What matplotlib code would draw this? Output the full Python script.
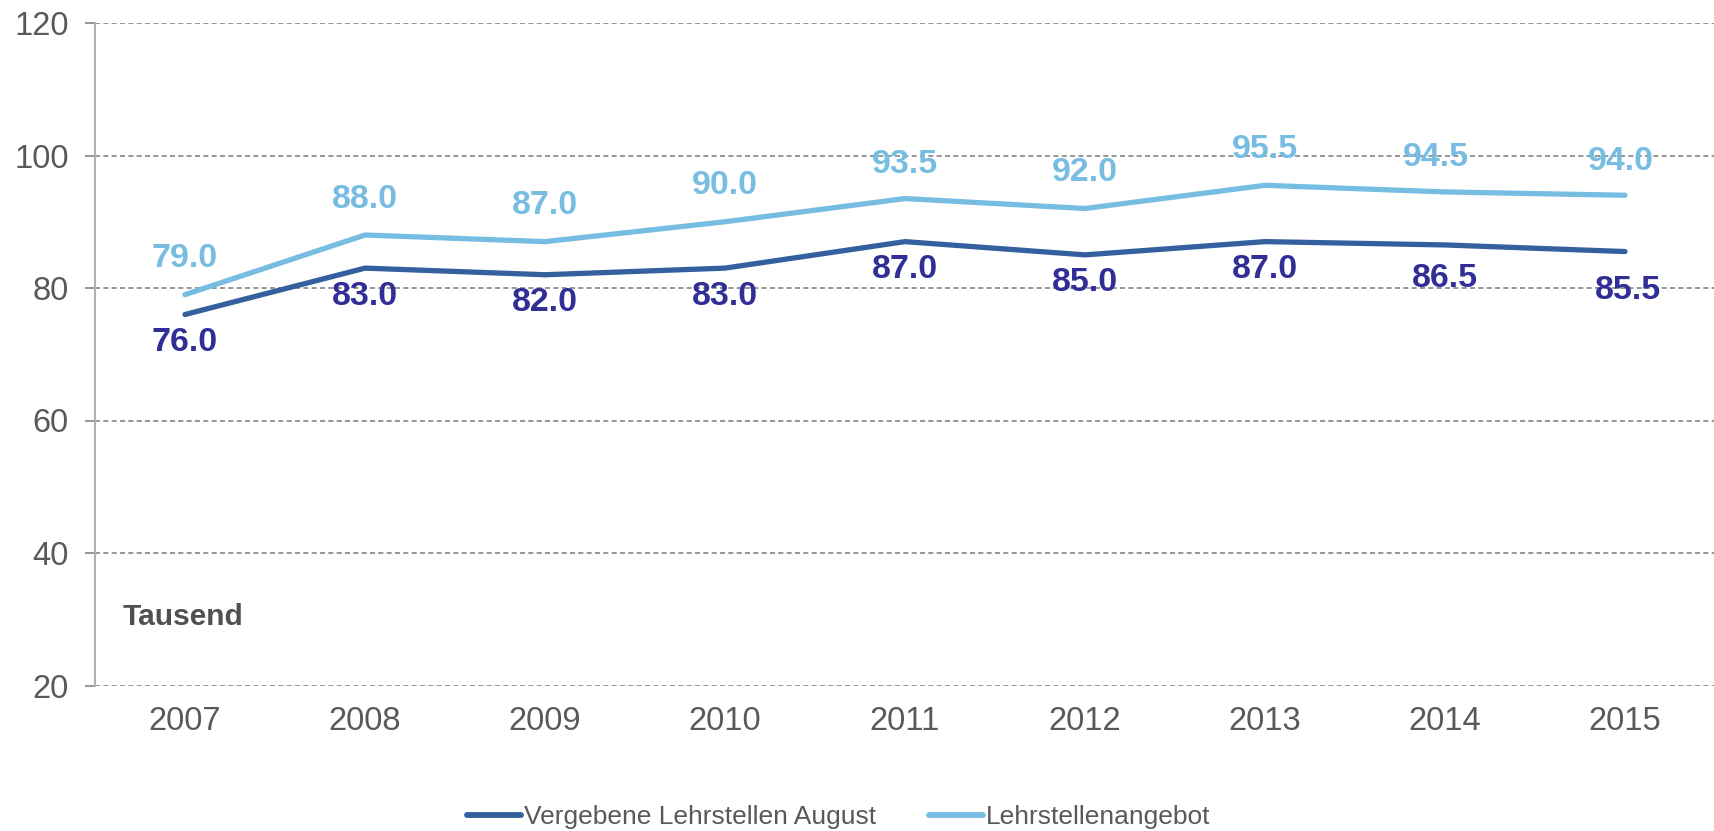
import matplotlib
matplotlib.use("Agg")
import matplotlib.pyplot as plt
from matplotlib import font_manager

years = ["2007", "2008", "2009", "2010", "2011", "2012", "2013", "2014", "2015"]
vergebene = [76.0, 83.0, 82.0, 83.0, 87.0, 85.0, 87.0, 86.5, 85.5]
angebot = [79.0, 88.0, 87.0, 90.0, 93.5, 92.0, 95.5, 94.5, 94.0]
series_names = ["Vergebene Lehrstellen August", "Lehrstellenangebot"]
yticks = [20, 40, 60, 80, 100, 120]
unit_label = "Tausend"

names = {f.name for f in font_manager.fontManager.ttflist}
base = "Liberation Sans" if "Liberation Sans" in names else "DejaVu Sans"
narrow = "Liberation Sans Narrow" if "Liberation Sans Narrow" in names else base
plt.rcParams["font.family"] = [base, "DejaVu Sans"]

DARK = "#34609E"
LIGHT = "#77BDE2"
DARK_LBL = "#312F96"
GREY = "#595959"

fig = plt.figure(figsize=(17.15, 8.31), dpi=100)
ax = fig.add_axes([95/1715, 145.5/831, 1 - 95/1715, (808 - 145.5)/831])

x = list(range(len(years)))
ax.plot(x, vergebene, color=DARK, lw=3.8, solid_capstyle="round", solid_joinstyle="round",
        label=series_names[0], zorder=3)
ax.plot(x, angebot, color=LIGHT, lw=3.8, solid_capstyle="round", solid_joinstyle="round",
        label=series_names[1], zorder=3)

ax.set_xlim(-0.5, len(years) - 0.5)
ax.set_ylim(20, 120)
ax.set_yticks(yticks)
ax.set_xticks(x)
ax.set_xticklabels(years)

ax.grid(axis="y", color="#858585", linestyle=(0, (3, 2)), linewidth=1.2, zorder=1)
ax.set_axisbelow(True)
for s in ["top", "right", "bottom"]:
    ax.spines[s].set_visible(False)
ax.spines["left"].set_color("#B0B0B0")
ax.spines["left"].set_linewidth(1.5)

ax.tick_params(axis="y", length=7, width=1.2, color="#858585", pad=12,
               labelsize=23.5, labelcolor=GREY)
ax.tick_params(axis="x", length=0, pad=15, labelsize=23.5, labelcolor=GREY)

light_off = [(0, 36), (0, 36), (0, 36), (0, 36), (0, 34), (0, 36), (0, 36), (-9, 34), (-4, 34)]
dark_off = [(0, -28), (0, -28), (0, -28), (0, -28), (0, -28), (0, -28), (0, -28), (0, -34), (3, -39)]
for i, v in enumerate(angebot):
    ax.annotate(f"{v:.1f}", (i, v), xytext=light_off[i], textcoords="offset pixels",
                ha="center", va="center", fontsize=24.5, fontweight="bold", color=LIGHT, zorder=4)
for i, v in enumerate(vergebene):
    ax.annotate(f"{v:.1f}", (i, v), xytext=dark_off[i], textcoords="offset pixels",
                ha="center", va="center", fontsize=24.5, fontweight="bold", color=DARK_LBL, zorder=4)

fig.text(123/1715, 1 - 617/831, unit_label, ha="left", va="center", fontsize=21.5,
         fontweight="bold", color="#505050")

leg = fig.legend(loc="center", bbox_to_anchor=(0.489, 14/831), ncol=2, frameon=False,
                 handlelength=2.05, handletextpad=0.1, columnspacing=2.0,
                 prop={"family": [narrow, "DejaVu Sans"], "size": 19})
for t in leg.get_texts():
    t.set_color(GREY)
for h in leg.legend_handles:
    h.set_linewidth(4.2)

fig.savefig("out.png", dpi=100)
